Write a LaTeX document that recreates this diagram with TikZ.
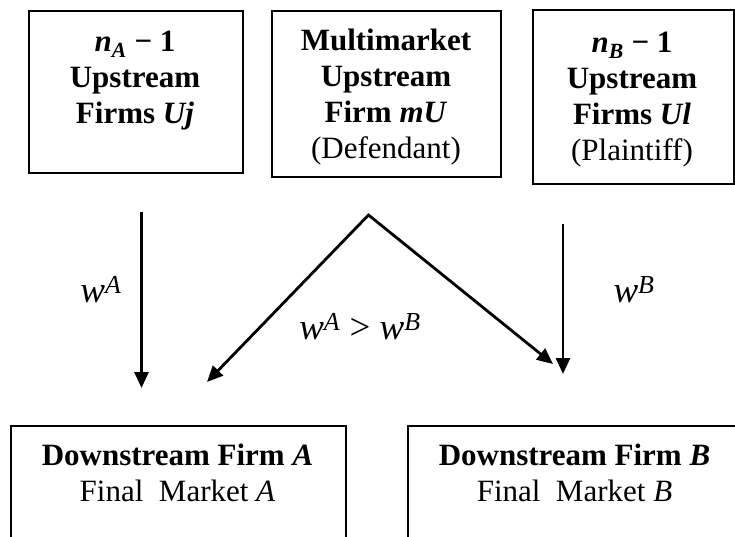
\documentclass[tikz,border=0pt]{standalone}
\usepackage{fontspec}
\setmainfont{Liberation Serif}
\usetikzlibrary{arrows.meta}
\begin{document}
\begin{tikzpicture}[x=1pt,y=-1pt,
  >={Triangle[length=16pt,width=14pt]},
  firmbox/.style={draw, line width=2pt, inner sep=0pt, anchor=north west},
  marketbox/.style={draw, line width=1.6pt, inner sep=0pt, anchor=north west},
  lbl/.style={inner sep=0pt, align=center, anchor=north, font=\fontsize{31}{36}\selectfont},
  price/.style={inner sep=0pt, font=\fontsize{37}{42}\selectfont},
  flow/.style={line width=2.8pt, line join=miter}]
\clip (0,0) rectangle (735,537);
\fill[white] (0,0) rectangle (735,537);

% upstream firms
\node[firmbox, minimum width=214pt, minimum height=162pt] (ua) at (28,10) {};
\node[firmbox, minimum width=229pt, minimum height=166pt] (mu) at (271,10) {};
\node[firmbox, minimum width=201pt, minimum height=174pt] (ub) at (532,9) {};

\node[lbl] (uatext) at (135,31)
  {\textbf{\textit{n}\textsubscript{\textit{A}} − 1}\\ \textbf{Upstream}\\ \textbf{Firms \textit{Uj}}};
\node[lbl] (mutext) at (386,29)
  {\textbf{Multimarket}\\ \textbf{Upstream}\\ \textbf{Firm \textit{mU}}\\ (Defendant)};
\node[lbl] (ubtext) at (632,32)
  {\textbf{\textit{n}\textsubscript{\textit{B}} − 1}\\ \textbf{Upstream}\\ \textbf{Firms \textit{Ul}}\\ (Plaintiff)};

% downstream firms (boxes run past the lower edge)
\node[marketbox, minimum width=335pt, minimum height=200pt] (da) at (10,425) {};
\node[marketbox, minimum width=335pt, minimum height=200pt] (db) at (407,425) {};

\node[lbl] (datext) at (177.5,444)
  {\textbf{Downstream Firm \textit{A}}\\ Final\ \ Market \textit{A}};
\node[lbl] (dbtext) at (574.5,444)
  {\textbf{Downstream Firm \textit{B}}\\ Final\ \ Market \textit{B}};

% wholesale price flows
\coordinate (aStart) at (141.5,212);
\coordinate (aEnd) at (141.5,388);
\coordinate (apex) at (368.5,215);
\coordinate (vLeft) at (207,382);
\coordinate (vRight) at (553,364);
\coordinate (bStart) at (563,224);
\coordinate (bEnd) at (563,374);

\draw[flow, ->] (aStart) -- (aEnd);
\draw[flow, <->] (vLeft) -- (apex) -- (vRight);
\draw[flow, ->] (bStart) -- (bEnd);

\node[price] (wa) at (101,290) {\textit{w}\textsuperscript{\textit{A}}};
\node[price] (wb) at (634,290) {\textit{w}\textsuperscript{\textit{B}}};
\node[price] (wab) at (360,327) {\textit{w}\textsuperscript{\textit{A}} > \textit{w}\textsuperscript{\textit{B}}};
\end{tikzpicture}
\end{document}
